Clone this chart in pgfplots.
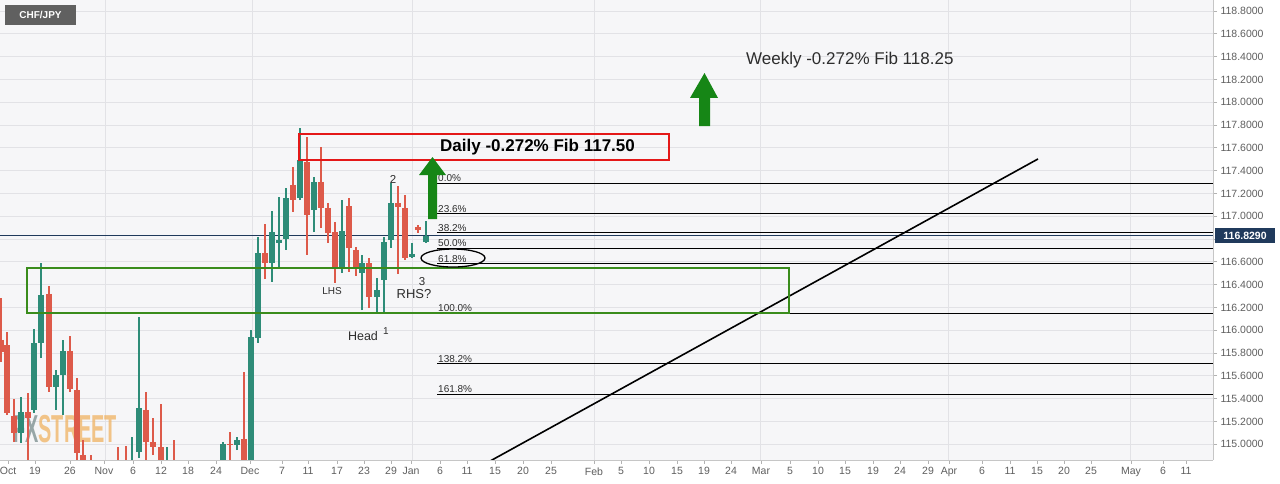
\documentclass[border=0pt]{standalone}
\usepackage{pgfplots}
\pgfplotsset{compat=1.18}
\usepackage{pgfplotstable}
\usepackage{graphicx}
\usepackage{fontspec}
\setmainfont{Liberation Sans}

\definecolor{upc}{RGB}{46,140,120}
\definecolor{dnc}{RGB}{221,90,74}
\definecolor{bgc}{RGB}{246,246,248}
\definecolor{gridc}{RGB}{226,226,230}
\definecolor{boxg}{RGB}{58,140,28}
\definecolor{arrg}{RGB}{22,134,22}
\definecolor{boxr}{RGB}{228,24,24}
\definecolor{tickc}{RGB}{95,95,95}
\definecolor{navy}{RGB}{32,58,92}
\definecolor{txt}{RGB}{45,45,45}
\definecolor{wmo}{RGB}{240,178,98}
\definecolor{wmg}{RGB}{120,140,140}

% x = horizontal position on the chart (trading-day slot), prices in JPY
\pgfplotstableread{
x o h l c
21 115.098 115.414 115.011 115.282
34 115.300 116.011 115.274 115.888
41 115.888 116.589 115.756 116.309
56 115.502 115.651 115.300 115.607
63 115.607 115.914 115.256 115.818
132 114.774 115.063 114.730 114.844
139 114.932 116.116 114.879 115.318
167 114.774 114.975 114.730 114.844
223 114.844 115.019 114.774 115.002
237 114.993 115.063 114.949 115.037
251 114.780 116.002 114.760 115.940
258 115.932 116.818 115.888 116.677
272 116.589 117.046 116.423 116.861
279 116.765 117.168 116.546 116.791
286 116.800 117.247 116.704 117.160
300 117.160 117.774 117.142 117.493
314 117.054 117.344 116.861 117.300
342 116.546 117.142 116.502 116.870
362 116.502 116.660 116.177 116.589
377 116.291 116.458 116.151 116.353
384 116.440 116.818 116.151 116.774
391 116.791 117.291 116.721 117.116
412 116.642 116.765 116.633 116.668
426 116.774 116.958 116.765 116.829
}\upcandles

\pgfplotstableread{
x o h l c
1 115.914 116.282 115.721 115.809
7 115.870 115.984 115.256 115.274
14 115.247 115.396 115.019 115.098
28 115.282 115.449 114.730 115.230
49 116.318 116.388 115.458 115.502
70 115.818 115.949 115.458 115.484
77 115.475 115.581 114.774 114.923
83 114.905 115.037 114.730 114.774
91 114.844 114.905 114.700 114.774
118 114.850 114.975 114.700 114.780
126 114.850 114.984 114.700 114.780
146 115.300 115.458 114.844 115.019
153 115.019 115.230 114.905 114.975
161 114.975 115.353 114.774 114.817
174 114.850 115.037 114.700 114.780
230 115.002 115.107 114.861 114.993
244 115.046 115.633 114.774 114.817
265 116.677 116.932 116.449 116.589
293 117.274 117.432 117.037 117.142
307 117.475 117.695 116.660 117.011
321 117.300 117.607 116.897 117.072
328 117.072 117.116 116.765 116.853
335 116.861 116.949 116.414 116.554
349 117.089 117.160 116.511 116.721
356 116.704 116.730 116.476 116.546
369 116.589 116.633 116.195 116.291
398 117.116 117.265 116.493 117.081
405 117.072 117.186 116.616 116.633
418 116.905 116.923 116.853 116.879
}\dncandles

\begin{document}
\begin{tikzpicture}[x=1pt,y=1pt]
\fill[white] (0,0) rectangle (1280,484);
\useasboundingbox (0,0) rectangle (1280,484);
\begin{axis}[
  at={(0pt,24pt)}, anchor=south west,
  scale only axis, width=1213pt, height=460pt,
  xmin=0, xmax=1213, ymin=114.8614, ymax=118.8965,
  clip mode=individual,
  axis background/.style={fill=bgc},
  axis x line*=bottom, axis y line*=right,
  axis line style={-, draw=gray!45, line width=0.8pt},
  ytick={115,115.2,115.4,115.6,115.8,116,116.2,116.4,116.6,116.8,117,117.2,117.4,117.6,117.8,118,118.2,118.4,118.6,118.8},
  yticklabels={115.0000,115.2000,115.4000,115.6000,115.8000,116.0000,116.2000,116.4000,116.6000,{},117.0000,117.2000,117.4000,117.6000,117.8000,118.0000,118.2000,118.4000,118.6000,118.8000},
  yticklabel pos=right,
  yticklabel style={font=\fontsize{10.5}{12}\selectfont, color=tickc},
  ymajorgrids, grid style={gridc, line width=0.8pt},
  tick style={gray!60, line width=0.6pt}, major tick length=4pt, tick align=outside,
  xtick={8,35,70,104,133,161,188,216,250,282,308,337,364,391,411,440,467,495,523,551,594,621,649,677,704,731,761,790,818,845,873,900,928,949,982,1010,1037,1064,1091,1131,1163,1186},
  xticklabels={Oct,19,26,Nov,6,12,18,24,Dec,7,11,17,23,29,Jan,6,11,15,20,25,Feb,5,10,15,19,24,Mar,5,10,15,19,24,29,Apr,6,11,15,20,25,May,6,11},
  xticklabel style={font=\fontsize{10.5}{12}\selectfont, color=tickc},
  extra x ticks={105,252,412,594,760,948,1130},
  extra x tick labels={},
  extra x tick style={grid=major, major tick length=0pt},
]
% watermark
\node[anchor=west, opacity=0.75, inner sep=0pt] at (axis cs:13,115.133)
  {\scalebox{0.51}[1]{\fontsize{39}{39}\selectfont\bfseries\textcolor{wmg}{FX}\textcolor{wmo}{STREET}}};

% current price line
\addplot[navy, line width=0.8pt, no markers] coordinates {(0,116.829) (1213,116.829)};

% candles: wicks and bodies
\addplot[upc, line width=1.2pt, no markers, quiver={u=0, v=\thisrow{h}-\thisrow{l}}] table[x=x, y=l] {\upcandles};
\addplot[upc, line width=5.6pt, no markers, quiver={u=0, v=\thisrow{c}-\thisrow{o}}] table[x=x, y=o] {\upcandles};
\addplot[dnc, line width=1.2pt, no markers, quiver={u=0, v=\thisrow{h}-\thisrow{l}}] table[x=x, y=l] {\dncandles};
\addplot[dnc, line width=5.6pt, no markers, quiver={u=0, v=\thisrow{c}-\thisrow{o}}] table[x=x, y=o] {\dncandles};

% fib levels
\addplot[black, line width=0.9pt, no markers] coordinates {(437,117.290) (1213,117.290)};
\addplot[black, line width=0.9pt, no markers] coordinates {(437,117.021) (1213,117.021)};
\addplot[black, line width=0.9pt, no markers] coordinates {(437,116.855) (1213,116.855)};
\addplot[black, line width=0.9pt, no markers] coordinates {(437,116.720) (1213,116.720)};
\addplot[black, line width=0.9pt, no markers] coordinates {(437,116.585) (1213,116.585)};
\addplot[black, line width=0.9pt, no markers] coordinates {(437,116.150) (1213,116.150)};
\addplot[black, line width=0.9pt, no markers] coordinates {(437,115.705) (1213,115.705)};
\addplot[black, line width=0.9pt, no markers] coordinates {(437,115.440) (1213,115.440)};

% trend line
\addplot[black, line width=1.6pt, no markers] coordinates {(488,114.842) (1038,117.502)};

\begin{scope}[every node/.style={font=\fontsize{10}{11}\selectfont, color=txt, anchor=south west, inner sep=1pt}]
\node at (axis cs:437,117.290) {0.0\%};
\node at (axis cs:437,117.021) {23.6\%};
\node at (axis cs:437,116.855) {38.2\%};
\node at (axis cs:437,116.720) {50.0\%};
\node at (axis cs:437,116.585) {61.8\%};
\node at (axis cs:437,116.150) {100.0\%};
\node at (axis cs:437,115.705) {138.2\%};
\node at (axis cs:437,115.440) {161.8\%};
\end{scope}

% boxes
\draw[boxg, line width=2.6pt] (axis cs:27,116.546) rectangle (axis cs:789,116.151);
\draw[boxr, line width=2.6pt] (axis cs:299,117.721) rectangle (axis cs:669,117.493);

% ellipse at 61.8
\draw[black, line width=1.3pt] (axis cs:453,116.633) ellipse [x radius=32pt, y radius=9pt];

% arrows
\fill[arrg] (axis cs:428,116.975) -- (axis cs:437,116.975) -- (axis cs:437,117.361) -- (axis cs:446,117.361)
  -- (axis cs:432.5,117.519) -- (axis cs:419,117.361) -- (axis cs:428,117.361) -- cycle;
\fill[arrg] (axis cs:699,117.791) -- (axis cs:710,117.791) -- (axis cs:710,118.037) -- (axis cs:718,118.037)
  -- (axis cs:704.5,118.256) -- (axis cs:690,118.037) -- (axis cs:699,118.037) -- cycle;

% texts
\node[anchor=west, inner sep=0pt, font=\fontsize{17}{20}\selectfont\bfseries, color=black] at (axis cs:440,117.607) {Daily -0.272\% Fib 117.50};
\node[anchor=west, inner sep=0pt, font=\fontsize{17}{20}\selectfont, color=txt] at (axis cs:746,118.370) {Weekly -0.272\% Fib 118.25};
\node[font=\fontsize{10}{11}\selectfont, color=txt, inner sep=0pt] at (axis cs:332,116.344) {LHS};
\node[font=\fontsize{12.5}{14}\selectfont, color=txt, inner sep=0pt] at (axis cs:363,115.949) {Head};
\node[font=\fontsize{10}{11}\selectfont, color=txt, inner sep=0pt] at (axis cs:386,115.990) {1};
\node[font=\fontsize{11.5}{13}\selectfont, color=txt, inner sep=0pt] at (axis cs:393,117.326) {2};
\node[font=\fontsize{11.5}{13}\selectfont, color=txt, inner sep=0pt] at (axis cs:422,116.423) {3};
\node[font=\fontsize{13}{15}\selectfont, color=txt, inner sep=0pt] at (axis cs:414,116.318) {RHS?};

% symbol tag
\node[fill=gray!75!black, text=white, font=\fontsize{10}{11}\selectfont\bfseries, minimum width=71pt, minimum height=20pt, inner sep=0pt] at (axis cs:40.5,118.765) {CHF/JPY};

\coordinate (tag) at (axis cs:1245,116.829);
\end{axis}
\node[fill=navy, text=white, font=\fontsize{10.5}{12}\selectfont\bfseries, minimum width=60pt, minimum height=15pt, inner sep=0pt] at (tag) {116.8290};
\end{tikzpicture}
\end{document}
